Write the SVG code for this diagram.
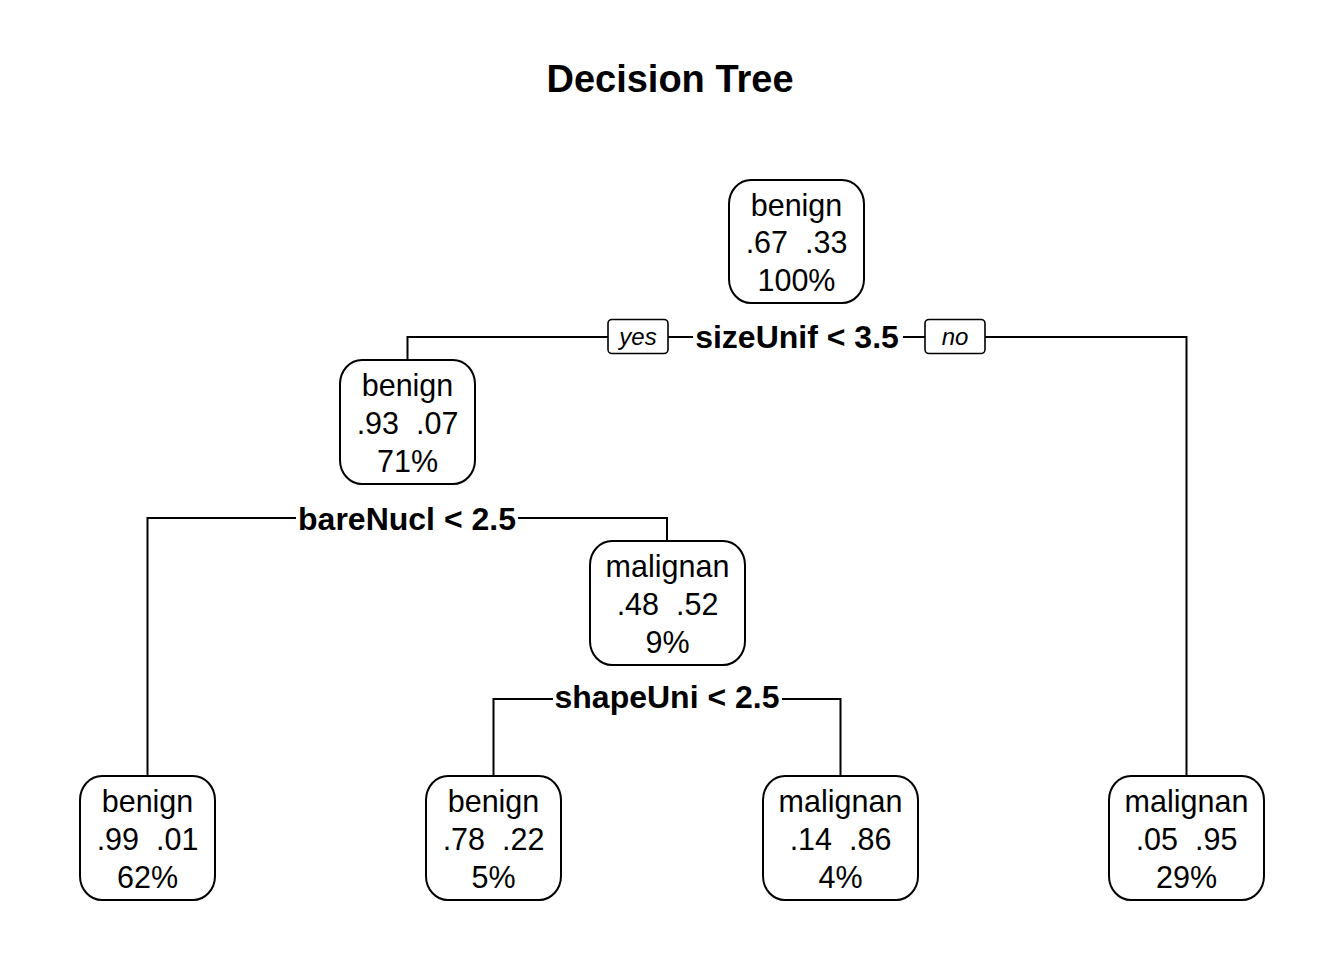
<svg xmlns="http://www.w3.org/2000/svg" width="1344" height="960" viewBox="0 0 1344 960">
<style>
.box{fill:#fff;stroke:#000;stroke-width:2}
.lbl{fill:#fff;stroke:#000;stroke-width:1.6}
.t{font-family:"Liberation Sans",Arial,sans-serif;font-size:30.5px;text-anchor:middle;fill:#000}
.s{font-family:"Liberation Sans",Arial,sans-serif;font-size:32px;font-weight:bold;text-anchor:middle;fill:#000}
.yn{font-family:"Liberation Sans",Arial,sans-serif;font-size:24px;font-style:italic;text-anchor:middle;fill:#000}
.title{font-family:"Liberation Sans",Arial,sans-serif;font-size:38px;font-weight:bold;text-anchor:middle;fill:#000}
#connectors path{fill:none;stroke:#000;stroke-width:2}
</style>
<rect width="1344" height="960" fill="#fff"/>
<text class="title" x="670" y="92">Decision Tree</text>

<g id="connectors">
<path d="M407.5,360 V337 H608"/>
<path d="M668,337 H693"/>
<path d="M903,337 H925"/>
<path d="M985,337 H1186.5 V776"/>
<path d="M147.5,776 V518 H296"/>
<path d="M518,518 H667 V541"/>
<path d="M493.5,776 V699 H553"/>
<path d="M782,699 H840.5 V776"/>
</g>

<g id="split-root">
<rect class="lbl" x="608" y="319.5" width="60" height="34" rx="4"/>
<text class="yn" x="638" y="345">yes</text>
<text class="s" x="797" y="348">sizeUnif &lt; 3.5</text>
<rect class="lbl" x="925" y="319.5" width="60" height="34" rx="4"/>
<text class="yn" x="955" y="345">no</text>
</g>
<g id="split-bareNucl"><text class="s" x="407" y="530">bareNucl &lt; 2.5</text></g>
<g id="split-shapeUni"><text class="s" x="667" y="708">shapeUni &lt; 2.5</text></g>

<g id="node1">
<rect class="box" x="729" y="180" width="135" height="123" rx="22" ry="24"/>
<text class="t" x="796.5" y="216">benign</text>
<text class="t" x="796.5" y="253" xml:space="preserve">.67  .33</text>
<text class="t" x="796.5" y="291">100%</text>
</g>
<g id="node2">
<rect class="box" x="340" y="360" width="135" height="124" rx="22" ry="24"/>
<text class="t" x="407.5" y="396">benign</text>
<text class="t" x="407.5" y="434" xml:space="preserve">.93  .07</text>
<text class="t" x="407.5" y="472">71%</text>
</g>
<g id="node5">
<rect class="box" x="590" y="541" width="155" height="124" rx="22" ry="24"/>
<text class="t" x="667.5" y="577">malignan</text>
<text class="t" x="667.5" y="615" xml:space="preserve">.48  .52</text>
<text class="t" x="667.5" y="653">9%</text>
</g>
<g id="node4">
<rect class="box" x="80" y="776" width="135" height="124" rx="22" ry="24"/>
<text class="t" x="147.5" y="812">benign</text>
<text class="t" x="147.5" y="850" xml:space="preserve">.99  .01</text>
<text class="t" x="147.5" y="888">62%</text>
</g>
<g id="node10">
<rect class="box" x="426" y="776" width="135" height="124" rx="22" ry="24"/>
<text class="t" x="493.5" y="812">benign</text>
<text class="t" x="493.5" y="850" xml:space="preserve">.78  .22</text>
<text class="t" x="493.5" y="888">5%</text>
</g>
<g id="node11">
<rect class="box" x="763" y="776" width="155" height="124" rx="22" ry="24"/>
<text class="t" x="840.5" y="812">malignan</text>
<text class="t" x="840.5" y="850" xml:space="preserve">.14  .86</text>
<text class="t" x="840.5" y="888">4%</text>
</g>
<g id="node3">
<rect class="box" x="1109" y="776" width="155" height="124" rx="22" ry="24"/>
<text class="t" x="1186.5" y="812">malignan</text>
<text class="t" x="1186.5" y="850" xml:space="preserve">.05  .95</text>
<text class="t" x="1186.5" y="888">29%</text>
</g>
</svg>
